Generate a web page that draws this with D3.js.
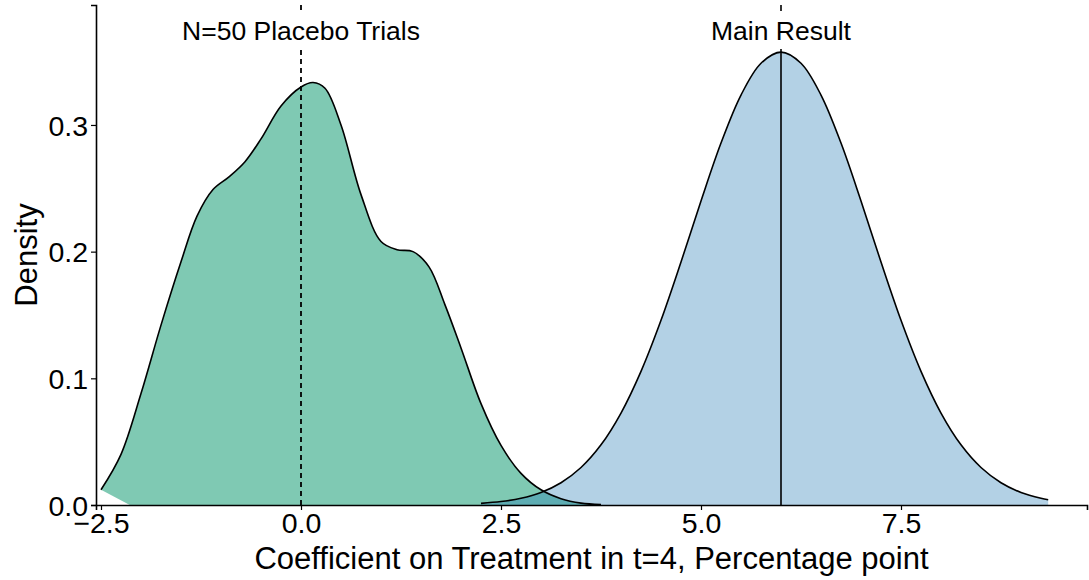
<!DOCTYPE html>
<html>
<head>
<meta charset="utf-8">
<script src="https://cdn.jsdelivr.net/npm/d3@7"></script>
<style>
  body { margin: 0; background: #fff; }
  text { font-family: "Liberation Sans", Arial, sans-serif; }
</style>
</head>
<body>
<div id="wrapper"></div>
<script>
// placebo trials density
const placeboX = [-2.5, -2.25, -2.0, -1.75, -1.5, -1.3, -1.1, -0.9, -0.7, -0.5, -0.25, 0.0, 0.15, 0.3, 0.5, 0.75, 1.0, 1.2, 1.4, 1.6, 1.8, 2.0, 2.25, 2.5, 2.75, 3.0, 3.25, 3.5, 3.75]
const placeboY = [0.012, 0.040, 0.088, 0.142, 0.192, 0.228, 0.249, 0.259, 0.271, 0.289, 0.315, 0.330, 0.3335, 0.329, 0.300, 0.245, 0.208, 0.2015, 0.200, 0.188, 0.158, 0.124, 0.080, 0.047, 0.025, 0.012, 0.005, 0.0015, 0.0003]
const placeboFillStart = -2.14

// main result density
const mainX = [2.25, 2.5, 2.75, 3.0, 3.25, 3.5, 3.75, 4.0, 4.25, 4.5, 4.75, 5.0, 5.25, 5.5, 5.75, 6.0, 6.25, 6.5, 6.75, 7.0, 7.25, 7.5, 7.75, 8.0, 8.25, 8.5, 8.75, 9.0, 9.25, 9.34]
const mainY = [0.0013, 0.0027, 0.0053, 0.0099, 0.0176, 0.0296, 0.0475, 0.0726, 0.1055, 0.1458, 0.1918, 0.2400, 0.2857, 0.3236, 0.3487, 0.3575, 0.3487, 0.3236, 0.2857, 0.2400, 0.1918, 0.1458, 0.1055, 0.0726, 0.0475, 0.0296, 0.0176, 0.0099, 0.0053, 0.0042]

const xTicks = [-2.5, 0.0, 2.5, 5.0, 7.5]
const yTicks = [0.0, 0.1, 0.2, 0.3]
const placeboLine = 0.0
const mainLine = 6.0
const labels = [
  { x: 0.0, text: "N=50 Placebo Trials" },
  { x: 6.0, text: "Main Result" }
]

const dimensions = {
  width: 1089,
  height: 580,
  margin: { top: 5, right: 2, bottom: 75, left: 96 }
}
const innerW = dimensions.width - dimensions.margin.left - dimensions.margin.right
const innerH = dimensions.height - dimensions.margin.top - dimensions.margin.bottom

const svg = d3.select("#wrapper")
  .append("svg")
    .attr("width", dimensions.width)
    .attr("height", dimensions.height)

const bounds = svg.append("g")
  .attr("transform", `translate(${dimensions.margin.left},${dimensions.margin.top})`)

const xScale = d3.scaleLinear()
  .domain([-2.5625, 9.825])
  .range([0, innerW])

const yScale = d3.scaleLinear()
  .domain([0, 0.3947])
  .range([innerH, 0])

const line = d3.line()
  .x(d => xScale(d[0]))
  .y(d => yScale(d[1]))
  .curve(d3.curveCatmullRom.alpha(0.5))

const placeboPts = placeboX.map((x, i) => [x, placeboY[i]])
const mainPts = mainX.map((x, i) => [x, mainY[i]])

// fills (the placebo polygon closes oddly at the left, like the original)
bounds.append("path")
  .attr("d", line(placeboPts) + "L" + xScale(placeboX[placeboX.length - 1]) + "," + yScale(0) + "L" + xScale(placeboFillStart) + "," + yScale(0) + "Z")
  .attr("fill", "#1b9e77")
  .attr("fill-opacity", 0.56)

bounds.append("path")
  .attr("d", line(mainPts) + "L" + xScale(mainX[mainX.length - 1]) + "," + yScale(0) + "L" + xScale(mainX[0]) + "," + yScale(0) + "Z")
  .attr("fill", "#1f78b4")
  .attr("fill-opacity", 0.34)

// outlines
bounds.append("path")
  .attr("d", line(placeboPts))
  .attr("fill", "none")
  .attr("stroke", "black")
  .attr("stroke-width", 1.6)

bounds.append("path")
  .attr("d", line(mainPts))
  .attr("fill", "none")
  .attr("stroke", "black")
  .attr("stroke-width", 1.6)

// vertical reference lines
bounds.append("line")
  .attr("x1", xScale(placeboLine)).attr("x2", xScale(placeboLine))
  .attr("y1", 0).attr("y2", innerH)
  .attr("stroke", "black")
  .attr("stroke-width", 1.8)
  .attr("stroke-dasharray", "5,4")

bounds.append("line")
  .attr("x1", xScale(mainLine)).attr("x2", xScale(mainLine))
  .attr("y1", 0).attr("y2", innerH)
  .attr("stroke", "black")
  .attr("stroke-width", 1.6)

// labels with white boxes
const labelGroup = bounds.selectAll(".lbl")
  .data(labels)
  .enter().append("g")
    .attr("class", "lbl")

labelGroup.append("text")
  .attr("x", d => xScale(d.x))
  .attr("y", 35)
  .attr("text-anchor", "middle")
  .attr("font-size", 26.5)
  .attr("fill", "black")
  .text(d => d.text)

labelGroup.each(function () {
  const g = d3.select(this)
  const bb = g.select("text").node().getBBox()
  g.insert("rect", "text")
    .attr("x", bb.x - 5)
    .attr("y", 6)
    .attr("width", bb.width + 10)
    .attr("height", 38)
    .attr("fill", "white")
})

// axes
const xAxis = d3.axisBottom(xScale)
  .tickValues(xTicks)
  .tickSizeOuter(0)
  .tickSize(5)
  .tickPadding(3)

const yAxis = d3.axisLeft(yScale)
  .tickValues(yTicks)
  .tickFormat(d3.format(".1f"))
  .tickSizeOuter(0)
  .tickSize(5)
  .tickPadding(3)

const xAxisG = bounds.append("g")
  .attr("transform", `translate(0,${innerH})`)
  .call(xAxis)
xAxisG.select(".domain").attr("stroke-width", 1.6)
xAxisG.selectAll(".tick line").attr("stroke-width", 1.2)
xAxisG.selectAll("text")
  .attr("font-size", 28.5)
  .attr("fill", "black")
  .attr("font-family", "Liberation Sans, Arial, sans-serif")
  .text(d => d < 0 ? "\u2212" + Math.abs(d).toFixed(1) : d.toFixed(1))

const yAxisG = bounds.append("g")
  .call(yAxis)
yAxisG.select(".domain").attr("stroke-width", 1.6)
yAxisG.selectAll(".tick line").attr("stroke-width", 1.2)
yAxisG.selectAll("text")
  .attr("font-size", 28.5)
  .attr("fill", "black")
  .attr("dy", "0.36em")
  .attr("font-family", "Liberation Sans, Arial, sans-serif")

// axis titles
svg.append("text")
  .attr("x", dimensions.margin.left + innerW / 2)
  .attr("y", 569)
  .attr("text-anchor", "middle")
  .attr("font-size", 31)
  .attr("fill", "black")
  .text("Coefficient on Treatment in t=4, Percentage point")

svg.append("text")
  .attr("transform", `translate(37,${dimensions.margin.top + innerH / 2}) rotate(-90)`)
  .attr("text-anchor", "middle")
  .attr("font-size", 31)
  .attr("fill", "black")
  .text("Density")
</script>
</body>
</html>
